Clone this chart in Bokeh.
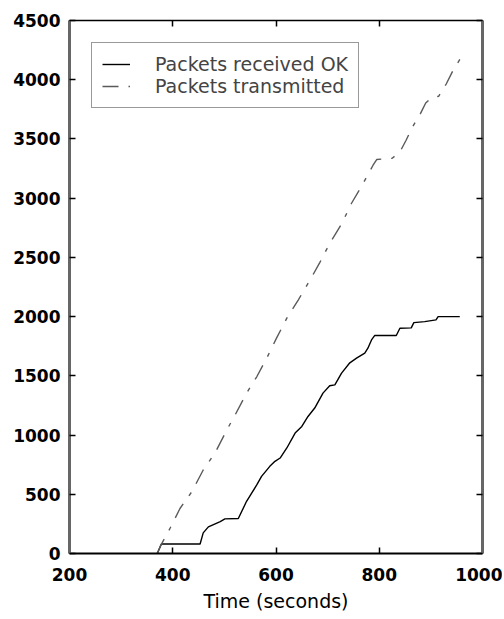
from bokeh.plotting import figure
from bokeh.models import (Range1d, LinearAxis, FixedTicker, Legend, LegendItem,
                          CustomJSTickFormatter)
from bokeh.embed import file_html
from bokeh.resources import INLINE

# ---- data ----
tx_time = [370, 376, 395, 414, 437, 459, 482, 505, 521, 543, 563, 582, 601, 621,
           643, 666, 685, 704, 727, 746, 767, 788, 795, 825, 840, 852, 865, 880,
           890, 902, 915, 930, 942, 958]
tx_packets = [0, 62, 215, 380, 522, 705, 850, 1045, 1171, 1354, 1494, 1649, 1818,
              1987, 2140, 2309, 2458, 2618, 2781, 2955, 3110, 3278, 3326, 3337,
              3390, 3489, 3606, 3716, 3803, 3850, 3860, 3966, 4070, 4185]

rx_time = [370, 378, 453, 459, 469, 492, 501, 527, 543, 563, 572, 588, 598, 608,
           621, 637, 650, 662, 675, 691, 704, 714, 727, 743, 756, 772, 778, 785,
           791, 833, 840, 862, 867, 888, 910, 914, 956]
rx_packets = [0, 80, 80, 174, 225, 270, 292, 295, 441, 581, 651, 736, 778, 806,
              891, 1017, 1073, 1157, 1228, 1354, 1416, 1424, 1523, 1610, 1649,
              1691, 1733, 1803, 1840, 1840, 1902, 1905, 1949, 1958, 1972, 2000, 2000]

x_ticks = [200, 400, 600, 800, 1000]
y_ticks = [0, 500, 1000, 1500, 2000, 2500, 3000, 3500, 4000, 4500]

series_names = ["Packets received OK", "Packets transmitted"]
x_label = "Time (seconds)"

p = figure(frame_width=413, frame_height=533,
           x_range=Range1d(200, 1000), y_range=Range1d(0, 4500),
           output_backend="svg", toolbar_location=None,
           min_border_left=69, min_border_right=20, min_border_top=20,
           min_border_bottom=58)
p.background_fill_color = "white"
p.border_fill_color = "white"
p.outline_line_color = None
p.xgrid.visible = False
p.ygrid.visible = False

r_rx = p.line(rx_time, rx_packets, line_color="black", line_width=1.4)
r_tx = p.line(tx_time, tx_packets, line_color="#5a5a5a", line_width=1.4,
              line_dash="16 10 4 10")

tick_font = "DejaVu Sans"

def style_axis(ax, ticks, color, width, labels=True):
    ax.ticker = FixedTicker(ticks=ticks)
    ax.axis_line_color = color
    ax.axis_line_width = width
    ax.major_tick_in = 6
    ax.major_tick_out = 0
    ax.major_tick_line_color = "black"
    ax.major_tick_line_width = 1.5
    ax.minor_tick_line_color = None
    if labels:
        ax.major_label_text_font = tick_font
        ax.major_label_text_font_style = "bold"
        ax.major_label_text_font_size = "17px"
        ax.major_label_text_color = "black"
    else:
        ax.formatter = CustomJSTickFormatter(code="return ''")
        ax.major_label_standoff = 0

# bottom axis
xb = p.xaxis[0]
style_axis(xb, x_ticks, "black", 2)
xb.major_label_standoff = 14
xb.axis_label = x_label
xb.axis_label_text_font = tick_font
xb.axis_label_text_font_style = "normal"
xb.axis_label_text_font_size = "19px"
xb.axis_label_text_color = "black"
xb.axis_label_standoff = 6

# left axis
yl = p.yaxis[0]
style_axis(yl, y_ticks, "#666666", 3)
yl.major_label_standoff = 9

# top and right axes (ticks only)
xt = LinearAxis()
style_axis(xt, x_ticks, "black", 1.5, labels=False)
p.add_layout(xt, "above")
yr = LinearAxis()
style_axis(yr, y_ticks, "#666666", 3, labels=False)
p.add_layout(yr, "right")

legend = Legend(items=[LegendItem(label=series_names[0], renderers=[r_rx]),
                       LegendItem(label=series_names[1], renderers=[r_tx])],
                location="top_left")
legend.label_text_font = tick_font
legend.label_text_font_size = "19px"
legend.label_text_color = "#444444"
legend.glyph_width = 28
legend.glyph_height = 16
legend.label_height = 16
legend.label_standoff = 25
legend.padding = 10
legend.spacing = -6
legend.margin = 22
legend.border_line_color = "#333333"
legend.border_line_width = 1.5
legend.background_fill_color = "white"
legend.background_fill_alpha = 1.0
p.add_layout(legend, "center")

open("out.html", "w").write(file_html(p, INLINE))
